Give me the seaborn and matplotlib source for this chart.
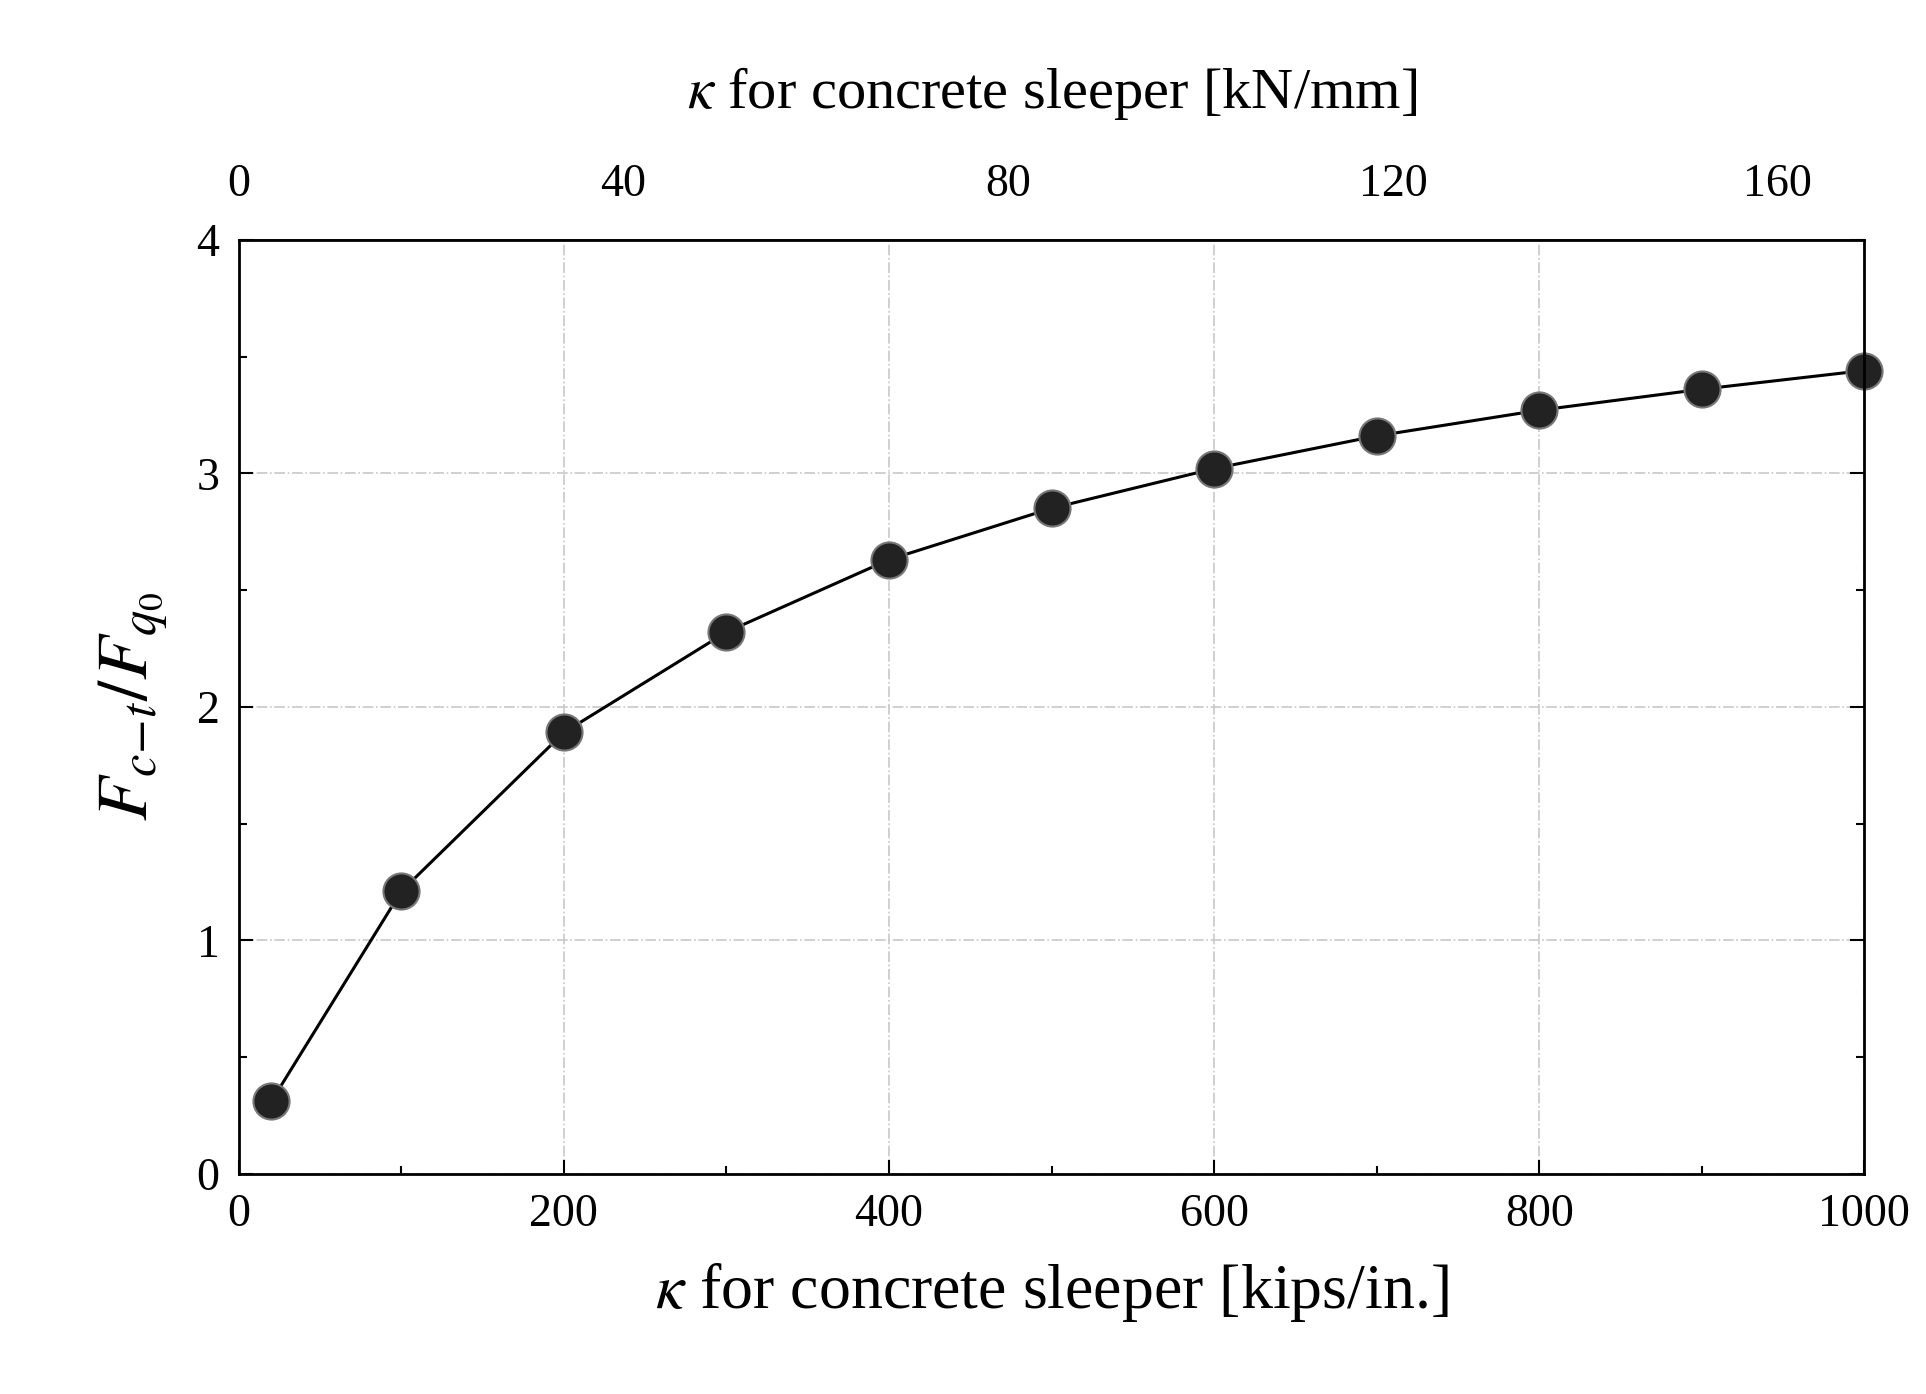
import matplotlib
matplotlib.use("Agg")
import matplotlib.pyplot as plt
import seaborn as sns
import pandas as pd
from matplotlib.ticker import MultipleLocator

kappa_kips = [20, 100, 200, 300, 400, 500, 600, 700, 800, 900, 1000]
force_ratio = [0.31, 1.21, 1.89, 2.32, 2.63, 2.85, 3.02, 3.16, 3.27, 3.36, 3.44]
top_ticks = [0, 40, 80, 120, 160]
KN_PER_KIP = 0.169

sns.set_theme(style="ticks")
plt.rcParams['font.family'] = ['Liberation Serif', 'DejaVu Serif']
plt.rcParams['mathtext.fontset'] = 'stix'
plt.rcParams['text.color'] = 'black'
plt.rcParams['xtick.color'] = 'black'
plt.rcParams['ytick.color'] = 'black'
plt.rcParams['axes.labelcolor'] = 'black'

df = pd.DataFrame({"k": kappa_kips, "r": force_ratio})
fig = plt.figure(figsize=(19.26, 13.94), dpi=100)
ax = fig.add_axes([0.124, 0.158, 0.844, 0.670])
sns.lineplot(data=df, x="k", y="r", ax=ax, color="black", lw=2.2,
             marker="o", markersize=26, markerfacecolor="#222222",
             markeredgecolor="#777777", markeredgewidth=1.5, clip_on=False)
ax.set_xlim(0, 1000)
ax.set_ylim(0, 4)
ax.xaxis.set_major_locator(MultipleLocator(200))
ax.yaxis.set_major_locator(MultipleLocator(1))
ax.yaxis.set_minor_locator(MultipleLocator(0.5))
ax.xaxis.set_minor_locator(MultipleLocator(100))
ax.grid(True, which="major", color="#c8c8c8", linestyle="-.", lw=1.2)
ax.tick_params(which="both", direction="in", top=False, right=True, labelsize=33, pad=14)
ax.tick_params(which="major", length=10, width=1.5)
ax.tick_params(which="minor", length=6, width=1.5)
for s in ax.spines.values():
    s.set_linewidth(2)
    s.set_color("black")
ax.set_xlabel(r"$\kappa$ for concrete sleeper [kips/in.]", fontsize=46, labelpad=18)
ax.set_ylabel(r"$F_{c\!-\!t}/F_{q_0}$", fontsize=52, labelpad=18)

sec = ax.secondary_xaxis("top", functions=(lambda x: x * KN_PER_KIP, lambda y: y / KN_PER_KIP))
sec.set_xticks(top_ticks)
sec.tick_params(direction="out", length=0, labelsize=33, pad=24)
sec.set_xlabel(r"$\kappa$ for concrete sleeper [kN/mm]", fontsize=42, labelpad=40)

fig.savefig("out.png", dpi=100, facecolor="white")
